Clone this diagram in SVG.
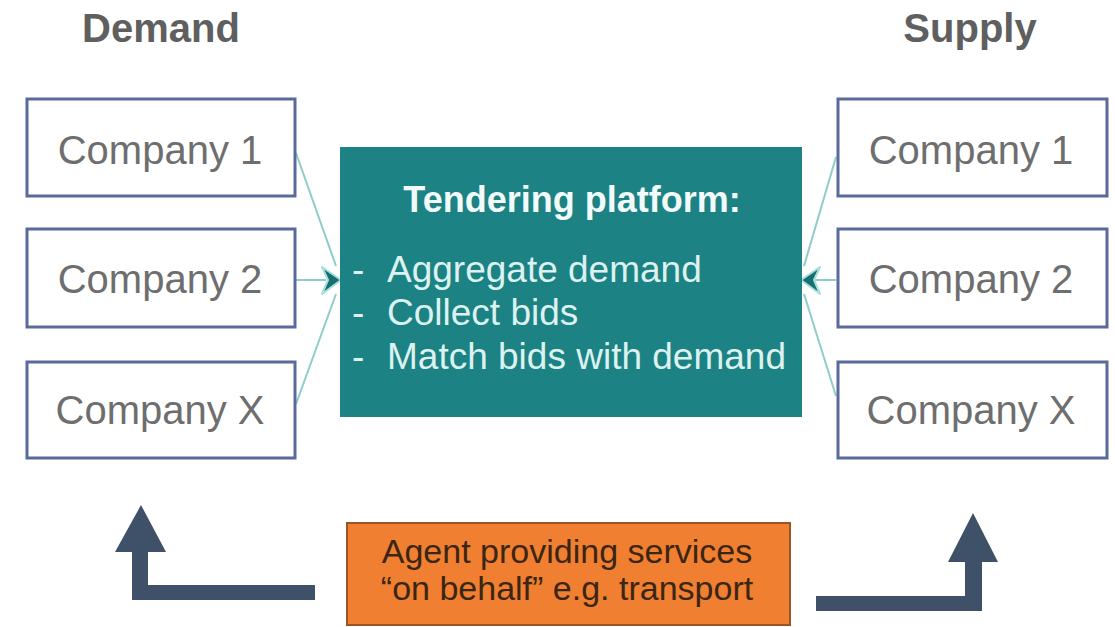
<svg xmlns="http://www.w3.org/2000/svg" width="1115" height="627" viewBox="0 0 1115 627">
<style>
.hdr{font-family:"Liberation Sans",Arial,sans-serif;font-weight:bold;font-size:40px;fill:#5f5f5f;text-anchor:middle}
.cbox{fill:#ffffff;stroke:#5a6a9c;stroke-width:3}
.ctxt{font-family:"Liberation Sans",Arial,sans-serif;font-size:40px;fill:#6e6e6e;text-anchor:middle}
.conn{stroke:#8fcccc;stroke-width:2;fill:none}
.ahead{fill:#17706f;stroke:#a8dede;stroke-width:2;stroke-linejoin:round}
.big{fill:#3f5069}
.ptxt{font-family:"Liberation Sans",Arial,sans-serif;font-size:37px;fill:#dcf2f0}
.ttl{font-family:"Liberation Sans",Arial,sans-serif;font-size:36px;font-weight:bold;fill:#f2fafa;text-anchor:middle}
.atxt{font-family:"Liberation Sans",Arial,sans-serif;font-size:34px;fill:#3b2614;text-anchor:middle}
</style>
<rect width="1115" height="627" fill="#ffffff"/>
<text class="hdr" x="161" y="42">Demand</text>
<text class="hdr" x="970" y="42">Supply</text>

<g id="connectors">
  <path class="conn" d="M296,153 L336,266"/>
  <path class="conn" d="M296,280 L326,280"/>
  <path class="conn" d="M296,404 L336,294"/>
  <path class="ahead" d="M322,267 L341,280 L322,294 L328,280 Z"/>
  <path class="conn" d="M836,157 L804,266"/>
  <path class="conn" d="M836,280 L814,280"/>
  <path class="conn" d="M836,396 L804,294"/>
  <path class="ahead" d="M820,267 L801,280 L820,294 L814,280 Z"/>
  <path class="big" d="M132,600 L132,552 L115,552 L141,505 L166,552 L148,552 L148,585 L315,585 L315,600 Z"/>
  <path class="big" d="M816,611 L816,596 L965,596 L965,562 L948,562 L973,513 L998,562 L982,562 L982,611 Z"/>
</g>

<g id="demand1"><rect class="cbox" x="27" y="99" width="268" height="97"/><text class="ctxt" x="160" y="164">Company 1</text></g>
<g id="demand2"><rect class="cbox" x="27" y="229" width="268" height="98"/><text class="ctxt" x="160" y="293">Company 2</text></g>
<g id="demandX"><rect class="cbox" x="27" y="362" width="268" height="96"/><text class="ctxt" x="160" y="424">Company X</text></g>

<g id="supply1"><rect class="cbox" x="838" y="99" width="269" height="97"/><text class="ctxt" x="971" y="164">Company 1</text></g>
<g id="supply2"><rect class="cbox" x="838" y="229" width="269" height="98"/><text class="ctxt" x="971" y="293">Company 2</text></g>
<g id="supplyX"><rect class="cbox" x="838" y="362" width="269" height="96"/><text class="ctxt" x="971" y="424">Company X</text></g>

<g id="platform">
  <rect x="340" y="147" width="462" height="270" fill="#1c8283"/>
  <text class="ttl" x="572" y="212">Tendering platform:</text>
  <text class="ptxt" x="352" y="282">-</text><text class="ptxt" x="387" y="282">Aggregate demand</text>
  <text class="ptxt" x="352" y="325">-</text><text class="ptxt" x="387" y="325">Collect bids</text>
  <text class="ptxt" x="352" y="369">-</text><text class="ptxt" x="387" y="369">Match bids with demand</text>
</g>

<g id="agent">
  <rect x="347" y="523" width="443" height="102" fill="#f07f31" stroke="#9a5526" stroke-width="2"/>
  <text class="atxt" x="567" y="563">Agent providing services</text>
  <text class="atxt" x="567" y="600">“on behalf” e.g. transport</text>
</g>
</svg>
